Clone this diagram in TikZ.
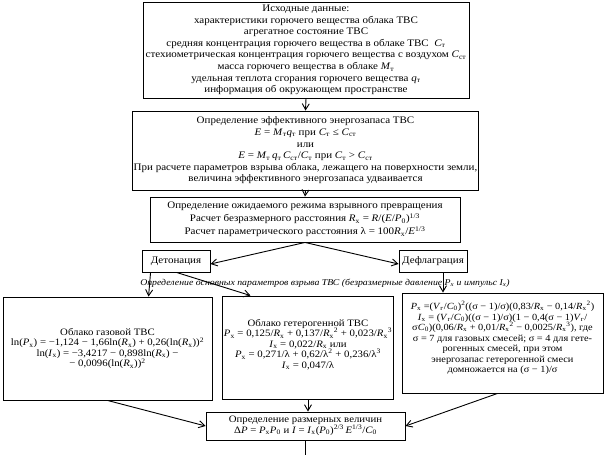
\documentclass[tikz,border=0pt]{standalone}
\usepackage{fontspec}
\setmainfont[FakeStretch=1.1]{Liberation Serif}
\usetikzlibrary{arrows.meta}
\newcommand\iv[1]{\textit{#1}}
\newcommand\sbx[2]{\textit{#1}\textsubscript{#2}}
\newcommand\sbs[3]{\textit{#1}\textsubscript{#2}\textsuperscript{#3}}
\begin{document}
\begin{tikzpicture}[x=1pt,y=-1pt,
 box/.style={draw, line width=0.9pt, inner sep=1pt, align=center, anchor=center,
   font=\fontsize{10}{11.6}\selectfont},
 lbox/.style={box, font=\fontsize{9.8}{10.5}\selectfont},
 arr/.style={-{Straight Barb[length=6pt,width=7pt]}, line width=0.9pt}]
\useasboundingbox (0,0) rectangle (605,455);

\node[box, minimum width=326pt, minimum height=96pt] (b1) at (306,50) {Исходные данные:\\
характеристики горючего вещества облака ТВС\\
агрегатное состояние ТВС\\
средняя концентрация горючего вещества в облаке ТВС \ \sbx{C}{т}\\
стехиометрическая концентрация горючего вещества с воздухом \sbx{C}{ст}\\
масса горючего вещества в облаке \sbx{M}{т}\\
удельная теплота сгорания горючего вещества \sbx{q}{т}\\
информация об окружающем пространстве};

\node[box, minimum width=333pt, minimum height=79pt] (b2) at (305.5,150.5) {Определение эффективного энергозапаса ТВС\\
\iv{E} = \sbx{M}{т}\sbx{q}{т} при \sbx{C}{т} ≤ \sbx{C}{ст}\\
или\\
\iv{E} = \sbx{M}{т}\,\sbx{q}{т}\,\sbx{C}{ст}/\sbx{C}{т} при \sbx{C}{т} > \sbx{C}{ст}\\
При расчете параметров взрыва облака, лежащего на поверхности земли,\\
величина эффективного энергозапаса удваивается};

\node[box, minimum width=310pt, minimum height=45pt] (b3) at (305,219.5) {Определение ожидаемого режима взрывного превращения\\[1.5pt]
Расчет безразмерного расстояния \sbx{R}{x} = \iv{R}/(\iv{E}/\sbx{P}{0})\textsuperscript{1/3}\\[1.5pt]
Расчет параметрического расстояния λ = 100\sbx{R}{x}/\iv{E}\textsuperscript{1/3}};

\node[box, minimum width=68pt, minimum height=22pt] (det) at (176,261) {Детонация};
\node[box, minimum width=68pt, minimum height=22pt] (def) at (433,261) {Дефлаграция};

\node[font=\fontsize{8.9}{11}\selectfont\itshape, inner sep=0pt] (it) at (325,283) {Определение основных параметров взрыва ТВС (безразмерные давление \sbx{P}{x} и импульс \sbx{I}{x})};

\node[lbox, minimum width=209pt, minimum height=103pt] (gas) at (107.5,348.5) {Облако газовой ТВС\\
ln(\sbx{P}{x}) = −1,124 − 1,66ln(\sbx{R}{x}) + 0,26(ln(\sbx{R}{x}))\textsuperscript{2}\\
ln(\sbx{I}{x}) = −3,4217 − 0,898ln(\sbx{R}{x}) −\\
− 0,0096(ln(\sbx{R}{x}))\textsuperscript{2}};

\node[lbox, minimum width=170pt, minimum height=103pt] (het) at (308,347.5) {Облако гетерогенной ТВС\\
\sbx{P}{x} = 0,125/\sbx{R}{x} + 0,137/\sbs{R}{x}{2} + 0,023/\sbs{R}{x}{3}\\
\sbx{I}{x} = 0,022/\sbx{R}{x} или\\
\sbx{P}{x} = 0,271/λ + 0,62/λ\textsuperscript{2} + 0,236/λ\textsuperscript{3}\\
\sbx{I}{x} = 0,047/λ\\[-2.5pt]\mbox{}};

\node[lbox, font=\fontsize{9.4}{10.5}\selectfont, minimum width=201pt, minimum height=100pt] (defl) at (502.5,343) {\sbx{P}{x} =(\sbx{V}{г}/\sbx{C}{0})\textsuperscript{2}((σ − 1)/σ)(0,83/\sbx{R}{x} − 0,14/\sbs{R}{x}{2})\\
\sbx{I}{x} = (\sbx{V}{г}/\sbx{C}{0})((σ − 1)/σ)(1 − 0,4(σ − 1)\sbx{V}{г}/\\
σ\sbx{C}{0})(0,06/\sbx{R}{x} + 0,01/\sbs{R}{x}{2} − 0,0025/\sbs{R}{x}{3}), где\\
σ = 7 для газовых смесей; σ = 4 для гете-\\
рогенных смесей, при этом\\
энергозапас гетерогенной смеси\\
домножается на (σ − 1)/σ\\[1.5pt]\mbox{}};

\node[lbox, minimum width=199pt, minimum height=28pt] (bot) at (305.5,426) {Определение размерных величин\\
Δ\iv{P} = \sbx{P}{x}\sbx{P}{0} и \iv{I} = \sbx{I}{x}(\sbx{P}{0})\textsuperscript{2/3}\,\iv{E}\textsuperscript{1/3}/\sbx{C}{0}};

\coordinate (end) at (304,455);

\draw[arr] (b1.south) -- (b2.north);
\draw[arr] (b2.south) -- (b3.north);
\draw[arr] (b3.south) -- ([yshift=-3pt]det.east);
\draw[arr] (b3.south) -- ([yshift=-3pt]def.west);
\draw[arr] ([xshift=9pt]det.south west) -- ([xshift=146pt]gas.north west);
\draw[arr] ([xshift=35pt]det.south west) -- ([xshift=28pt]het.north west);
\draw[arr] ([xshift=10pt]def.south) -- ([xshift=10pt]def.south |- defl.north);
\draw[arr] (gas.south) -- (bot.west);
\draw[arr] (het.south) -- (het.south |- bot.north);
\draw[arr] ([xshift=-5pt]defl.south) -- (bot.east);
\draw[line width=0.9pt] (bot.south) -- (bot.south |- end);
\end{tikzpicture}
\end{document}
